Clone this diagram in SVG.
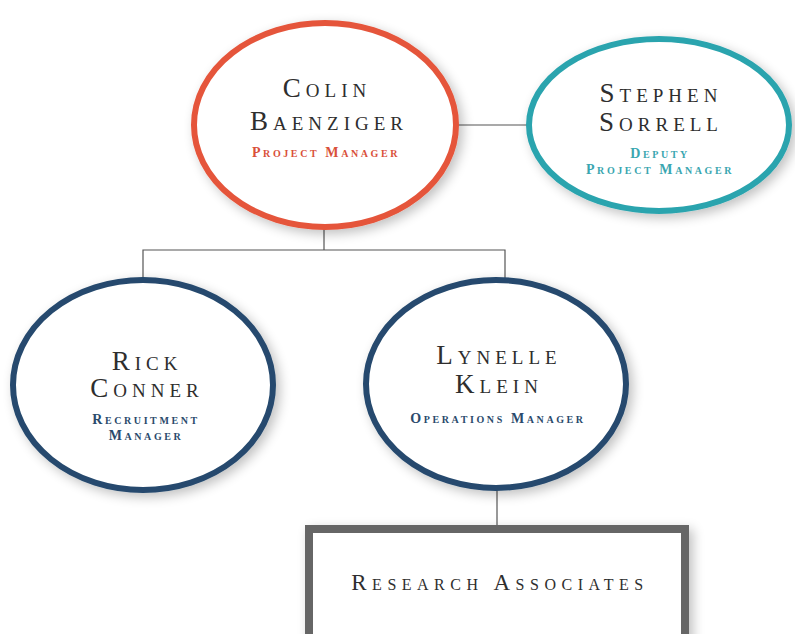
<svg xmlns="http://www.w3.org/2000/svg" width="795" height="634" viewBox="0 0 795 634">
<style>
.name{font-family:"Liberation Serif","DejaVu Serif",serif;font-variant:small-caps;fill:#2e2e2e;text-anchor:middle;letter-spacing:5px;font-size:27px}
.role{font-family:"Liberation Serif","DejaVu Serif",serif;font-variant:small-caps;text-anchor:middle;letter-spacing:2.6px;font-size:14px;font-weight:bold}
.conn{stroke:#555;stroke-width:1.2;fill:none}
.node{fill:#fff;stroke-width:6}
</style>
<defs>
<filter id="sh" x="-20%" y="-20%" width="140%" height="140%">
<feGaussianBlur in="SourceAlpha" stdDeviation="6"/>
<feOffset dx="4" dy="4" result="b"/>
<feComponentTransfer><feFuncA type="linear" slope="0.25"/></feComponentTransfer>
<feMerge><feMergeNode/><feMergeNode in="SourceGraphic"/></feMerge>
</filter>
</defs>
<rect width="795" height="634" fill="#fff"/>
<g id="connectors">
<line class="conn" x1="457" y1="125" x2="528" y2="125"/>
<polyline class="conn" points="324,228 324,250"/>
<polyline class="conn" points="143,280 143,250 505,250 505,280"/>
<line class="conn" x1="497" y1="488" x2="497" y2="526"/>
</g>
<g id="colin">
<ellipse class="node" cx="325" cy="125" rx="131" ry="102" stroke="#e5553b" filter="url(#sh)"/>
<text class="name" x="327" y="97">Colin</text>
<text class="name" x="329" y="130">Baenziger</text>
<text class="role" x="326" y="157" fill="#d9503a">Project Manager</text>
</g>
<g id="stephen">
<ellipse class="node" cx="659" cy="125" rx="130" ry="86" stroke="#2ba4ae" filter="url(#sh)"/>
<text class="name" x="661" y="102">Stephen</text>
<text class="name" x="661" y="131">Sorrell</text>
<text class="role" x="660" y="158" fill="#3aa6b0">Deputy</text>
<text class="role" x="660" y="174" fill="#3aa6b0">Project Manager</text>
</g>
<g id="rick">
<ellipse class="node" cx="143" cy="385" rx="130" ry="105" stroke="#264a6e" filter="url(#sh)"/>
<text class="name" x="147" y="370">Rick</text>
<text class="name" x="147" y="397">Conner</text>
<text class="role" x="146" y="424" fill="#2a4a6c">Recruitment</text>
<text class="role" x="146" y="440" fill="#2a4a6c">Manager</text>
</g>
<g id="lynelle">
<ellipse class="node" cx="496" cy="384" rx="130" ry="104" stroke="#264a6e" filter="url(#sh)"/>
<text class="name" x="499" y="364">Lynelle</text>
<text class="name" x="499" y="393">Klein</text>
<text class="role" x="498" y="423" fill="#2a4a6c">Operations Manager</text>
</g>
<g id="research">
<rect x="309" y="529" width="376" height="110" fill="#fff" stroke="#666" stroke-width="8" filter="url(#sh)"/>
<text class="name" x="500" y="590" style="font-size:23px;letter-spacing:5.5px">Research Associates</text>
</g>
</svg>
